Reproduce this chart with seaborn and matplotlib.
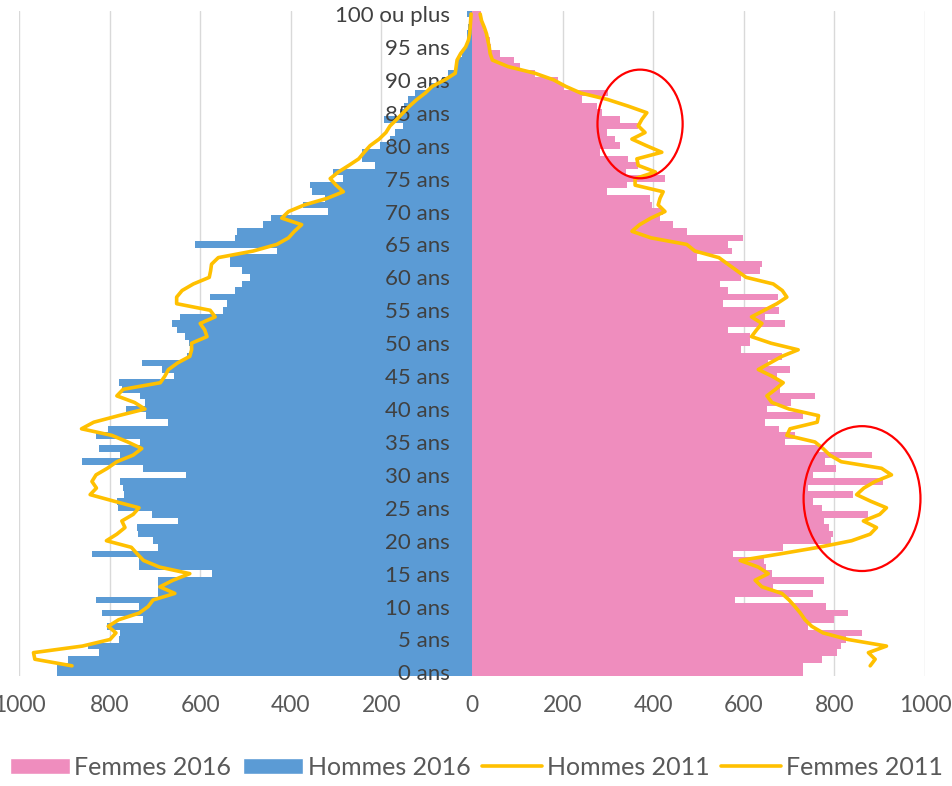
import numpy as np
import pandas as pd
import matplotlib
matplotlib.use("Agg")
import matplotlib.pyplot as plt
import seaborn as sns
from matplotlib.patches import Ellipse, Patch
from matplotlib.lines import Line2D
from matplotlib.ticker import FuncFormatter

# population per single year of age, 0 .. 100 ("100 ou plus")
ages = list(range(101))
hommes_2016 = [916, 917, 891, 823, 847, 779, 777, 805, 727, 816,
               734, 830, 694, 694, 694, 575, 734, 734, 838, 694,
               704, 737, 739, 649, 706, 781, 784, 769, 771, 777,
               632, 727, 862, 777, 823, 733, 829, 803, 670, 720,
               764, 722, 733, 773, 779, 657, 685, 729, 630, 619,
               625, 634, 652, 663, 645, 549, 540, 578, 523, 508,
               490, 508, 534, 534, 431, 611, 523, 518, 462, 444,
               317, 374, 324, 354, 358, 284, 306, 214, 243, 243,
               203, 181, 170, 152, 194, 160, 150, 141, 125, 95,
               67, 54, 37, 30, 22, 16, 12, 10, 8, 6,
               12]
femmes_2016 = [731, 731, 773, 805, 815, 825, 862, 742, 800, 829,
               781, 581, 753, 665, 776, 662, 650, 645, 577, 687,
               793, 798, 787, 776, 875, 772, 753, 842, 742, 908,
               753, 803, 779, 882, 765, 692, 713, 677, 647, 731,
               651, 704, 757, 680, 680, 673, 702, 654, 685, 594,
               614, 614, 566, 691, 647, 677, 555, 675, 566, 547,
               594, 636, 640, 496, 573, 566, 599, 474, 444, 415,
               422, 397, 393, 297, 343, 426, 340, 367, 345, 283,
               327, 316, 297, 367, 327, 286, 275, 242, 301, 202,
               190, 139, 106, 93, 62, 42, 40, 30, 25, 22,
               20]

ages_2011 = list(range(1, 101))
hommes_2011 = [883, 965, 968, 860, 799, 786, 803, 780, 735, 715,
               704, 656, 689, 660, 623, 690, 725, 739, 752, 807,
               784, 766, 773, 748, 735, 790, 843, 829, 839, 830,
               805, 784, 748, 729, 760, 795, 862, 835, 780, 722,
               745, 784, 770, 688, 678, 670, 650, 623, 619, 619,
               585, 590, 600, 567, 578, 652, 652, 640, 615, 580,
               577, 575, 560, 483, 431, 405, 392, 376, 420, 405,
               370, 320, 284, 300, 313, 295, 272, 250, 238, 225,
               205, 190, 181, 166, 152, 138, 122, 103, 88, 60,
               37, 35, 33, 25, 14, 8, 5, 4, 3, 2]
femmes_2011 = [879, 890, 875, 915, 830, 775, 750, 735, 725, 713,
               700, 684, 640, 625, 654, 632, 592, 680, 765, 838,
               879, 893, 864, 900, 915, 880, 849, 865, 890, 926,
               904, 815, 790, 775, 757, 695, 702, 762, 765, 700,
               662, 651, 670, 687, 662, 632, 658, 684, 720, 660,
               617, 628, 640, 617, 645, 673, 695, 685, 665, 605,
               585, 565, 545, 492, 474, 395, 353, 370, 395, 426,
               411, 415, 422, 360, 360, 405, 367, 364, 419, 385,
               353, 382, 367, 375, 386, 345, 300, 240, 207, 180,
               139, 80, 45, 40, 38, 35, 32, 27, 21, 18]

age_labels = [f"{a} ans" for a in range(0, 100, 5)] + ["100 ou plus"]

PINK = "#EF8DBE"
BLUE = "#5B9BD5"
GOLD = "#FFC000"

sns.set_style("white")
plt.rcParams["font.family"] = ["Lato", "DejaVu Sans"]

bars = pd.DataFrame({"age": ages,
                     "hommes": [-v for v in hommes_2016],
                     "femmes": femmes_2016})
lines = pd.DataFrame({"age": ages_2011,
                      "hommes": [-v for v in hommes_2011],
                      "femmes": femmes_2011})

fig = plt.figure(figsize=(9.52, 7.86), dpi=100)
ax = fig.add_axes([19 / 952, 110.3 / 786, 906 / 952, 665 / 786])

for v in range(-1000, 1001, 200):
    ax.axvline(v, color="#D9D9D9", lw=1, zorder=0)

sns.barplot(data=bars, x="femmes", y="age", orient="h", native_scale=True,
            width=1, color=PINK, saturation=1, errorbar=None, linewidth=0, ax=ax)
sns.barplot(data=bars, x="hommes", y="age", orient="h", native_scale=True,
            width=1, color=BLUE, saturation=1, errorbar=None, linewidth=0, ax=ax)
sns.lineplot(data=lines, x="hommes", y="age", orient="y", sort=True,
             color=GOLD, lw=2.6, errorbar=None, ax=ax, zorder=3)
sns.lineplot(data=lines, x="femmes", y="age", orient="y", sort=True,
             color=GOLD, lw=2.6, errorbar=None, ax=ax, zorder=3)

# red circles highlighting the gaps
for (cx, cy, w, h) in [(371, 83.3, 188, 16.5), (861, 26.4, 258, 22)]:
    ax.add_patch(Ellipse((cx, cy), w, h, fill=False, edgecolor="#FF0000",
                         lw=1.6, zorder=4))

ax.set_xlim(-1000, 1000)
ax.set_ylim(-0.5, 100.5)
ax.set_xlabel("")
ax.set_ylabel("")
ax.set_xticks(range(-1000, 1001, 200))
ax.xaxis.set_major_formatter(FuncFormatter(lambda v, p: f"{abs(int(v))}"))
ax.set_yticks(range(0, 101, 5))
ax.set_yticklabels(age_labels)
for s in ax.spines.values():
    s.set_visible(False)
ax.spines["left"].set_position(("data", 0))
ax.set_axisbelow(False)
ax.tick_params(axis="y", length=0, pad=16, labelsize=16, labelcolor="#404040")
ax.tick_params(axis="x", length=0, pad=14, labelsize=16.5, labelcolor="#595959")

handles = [Patch(facecolor=PINK), Patch(facecolor=BLUE),
           Line2D([], [], color=GOLD, lw=2.6), Line2D([], [], color=GOLD, lw=2.6)]
labels = ["Femmes 2016", "Hommes 2016", "Hommes 2011", "Femmes 2011"]
if ax.get_legend() is not None:
    ax.get_legend().remove()
fig.legend(handles, labels, loc="center", bbox_to_anchor=(0.5, 0.024), ncol=4,
           frameon=False, fontsize=18, labelcolor="#595959", handlelength=2.4,
           handleheight=0.6, handletextpad=0.2, columnspacing=0.45)

fig.savefig("out.png", dpi=100)
